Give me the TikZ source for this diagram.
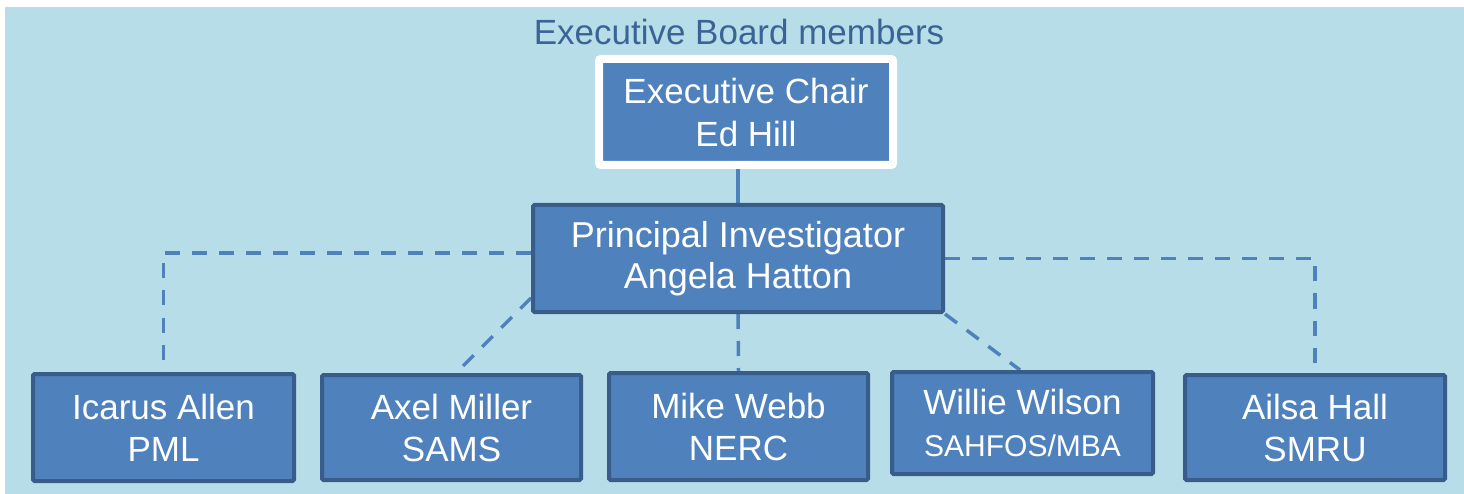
\documentclass[tikz,border=0pt]{standalone}
\usepackage{fontspec}
\setmainfont{Liberation Sans}
\usetikzlibrary{calc}
\definecolor{panel}{HTML}{B7DDE8}
\definecolor{boxfill}{HTML}{4F81BD}
\definecolor{boxline}{HTML}{385D8A}
\definecolor{titleblue}{HTML}{3A6496}
\pgfdeclarelayer{backdrop}
\pgfdeclarelayer{links}
\pgfsetlayers{backdrop,links,main}
\tikzset{
  member/.style={rectangle, fill=boxfill, draw=boxline, line width=4pt,
    rounded corners=1.5pt, text=white, align=center, inner sep=0pt,
    font=\fontsize{35}{42}\selectfont},
  chair/.style={rectangle, fill=boxfill, draw=white, line width=8pt,
    rounded corners=2pt, text=white, align=center, inner sep=0pt,
    font=\fontsize{35}{43}\selectfont},
  link/.style={draw=boxfill, line width=3.5pt, dash pattern=on 15pt off 12pt},
  solidlink/.style={draw=boxfill, line width=4pt}
}
\begin{document}
\begin{tikzpicture}[x=1pt, y=-1pt]
  % page and panel
  \begin{pgfonlayer}{backdrop}
    \fill[white] (0,0) rectangle (1464,494);
    \fill[panel] (5,7) rectangle (1464,494);
  \end{pgfonlayer}
  \useasboundingbox (0,0) rectangle (1464,494);

  \node[text=titleblue, font=\fontsize{35}{42}\selectfont] (title) at (739,32) {Executive Board members};

  \node[chair, minimum width=294pt, minimum height=106pt] (chair) at (746,112)
    {Executive Chair\\Ed Hill};
  \node[member, minimum width=410pt, minimum height=107pt,
        font=\fontsize{36}{41}\selectfont] (pi) at (738,258.5)
    {Principal Investigator\\Angela Hatton};

  \node[member, minimum width=261pt, minimum height=107pt] (icarus) at (163.5,427.5)
    {Icarus Allen\\PML};
  \node[member, minimum width=259pt, minimum height=105pt] (axel) at (451.5,427.5)
    {Axel Miller\\SAMS};
  \node[member, minimum width=259pt, minimum height=107pt] (mike) at (738.5,426.5)
    {Mike Webb\\NERC};
  \node[member, minimum width=261pt, minimum height=102pt] (willie) at (1022.5,423)
    {Willie Wilson\\{\fontsize{30}{38}\selectfont SAHFOS/MBA}};
  \node[member, minimum width=260pt, minimum height=105pt] (ailsa) at (1315,427.5)
    {Ailsa Hall\\SMRU};

  % connectors, drawn beneath the boxes
  \begin{pgfonlayer}{links}
    \draw[solidlink] (chair.south -| pi.north) -- (pi.north);
    \draw[link] ([yshift=5.5pt]pi.west) -| (icarus.north);
    \draw[link] ([yshift=16pt]pi.south west) -- ([xshift=4.5pt]axel.north);
    \draw[link] (pi.south) -- (mike.north);
    \draw[link] (pi.south east) -- ([xshift=-2.5pt]willie.north);
    \draw[link] (pi.east) -| (ailsa.north);
  \end{pgfonlayer}
\end{tikzpicture}
\end{document}
